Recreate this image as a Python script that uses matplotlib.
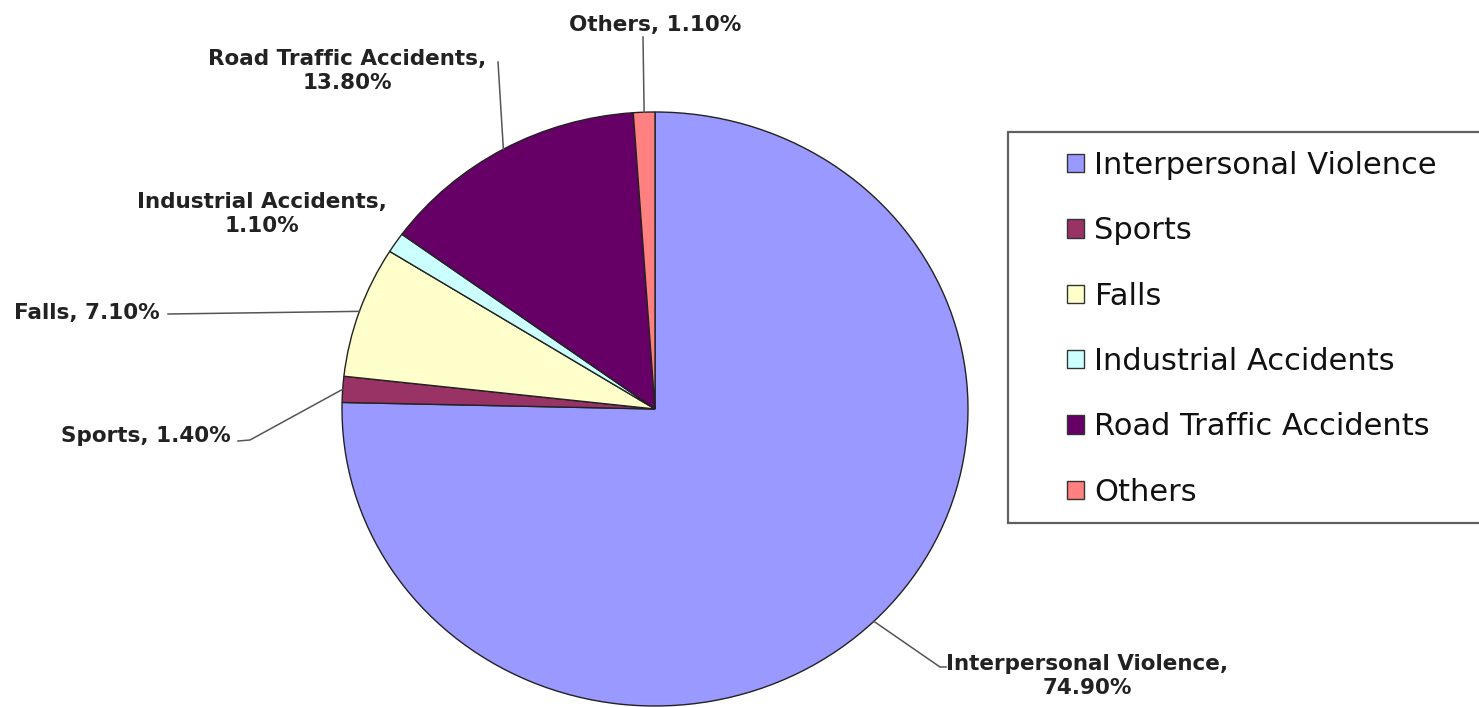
import numpy as np
import matplotlib.pyplot as plt
from matplotlib.patches import Patch, Rectangle

causes = ["Interpersonal Violence", "Sports", "Falls", "Industrial Accidents",
          "Road Traffic Accidents", "Others"]
shares = [74.9, 1.4, 7.1, 1.1, 13.8, 1.1]
slice_labels = ["Interpersonal Violence,\n74.90%", "Sports, 1.40%", "Falls, 7.10%",
                "Industrial Accidents,\n1.10%", "Road Traffic Accidents,\n13.80%",
                "Others, 1.10%"]
colors = ["#9999FF", "#993366", "#FFFFCC", "#CCFFFF", "#660066", "#FF8080"]

W, H = 1479, 707
fig = plt.figure(figsize=(W / 100, H / 100), dpi=100)

# pie box in pixels (slightly stretched horizontally like the original)
px0, px1, py0, py1 = 342, 968, 112, 706
ax = fig.add_axes([px0 / W, 1 - py1 / H, (px1 - px0) / W, (py1 - py0) / H])

wedges, _ = ax.pie(shares, colors=colors, startangle=90, counterclock=False,
                   wedgeprops=dict(edgecolor="#222222", linewidth=1.0))
ax.set_aspect("auto")
ax.set_xlim(-1, 1)
ax.set_ylim(-1, 1)

cx, cy = (px0 + px1) / 2, (py0 + py1) / 2
rx, ry = (px1 - px0) / 2, (py1 - py0) / 2


def to_data(p):
    return ((p[0] - cx) / rx, (cy - p[1]) / ry)


# text position (pixels), alignment, leader line bends (pixels)
label_layout = [
    ((1087, 676), "center", [(940, 667), (946, 667)]),
    ((231, 436), "right", [(250, 440), (238, 441)]),
    ((160, 313), "right", [(168, 314)]),
    ((262, 214), "center", None),
    ((347, 71), "center", [(498, 62)]),
    ((655, 25), "center", [(643, 37)]),
]

for w, lab, (tpos, ha, bends) in zip(wedges, slice_labels, label_layout):
    tx, ty = to_data(tpos)
    ax.text(tx, ty, lab, ha=ha, va="center", fontsize=15.5, fontweight="bold",
            color="#222222", linespacing=1.3, clip_on=False)
    if bends is None:
        continue
    mid = np.deg2rad((w.theta1 + w.theta2) / 2)
    pts = [(np.cos(mid), np.sin(mid))] + [to_data(b) for b in bends]
    xs, ys = zip(*pts)
    ax.plot(xs, ys, color="#555555", lw=1.1, clip_on=False)

# legend frame runs past the right edge
fig.patches.append(Rectangle((1008 / W, 1 - 523 / H), 600 / W, 391 / H,
                             transform=fig.transFigure, facecolor="white",
                             edgecolor="#606060", lw=1.6, zorder=0))

handles = [Patch(facecolor=c, edgecolor="#333333", lw=1) for c in colors]
fig.legend(handles, causes, loc="upper left", bbox_to_anchor=(1067 / W, 1 - 151 / H),
           frameon=False, fontsize=22, handlelength=0.55, handleheight=0.55,
           handletextpad=0.35, labelspacing=1.19, borderpad=0, borderaxespad=0,
           labelcolor="#111111")

fig.savefig("out.png", dpi=100)
